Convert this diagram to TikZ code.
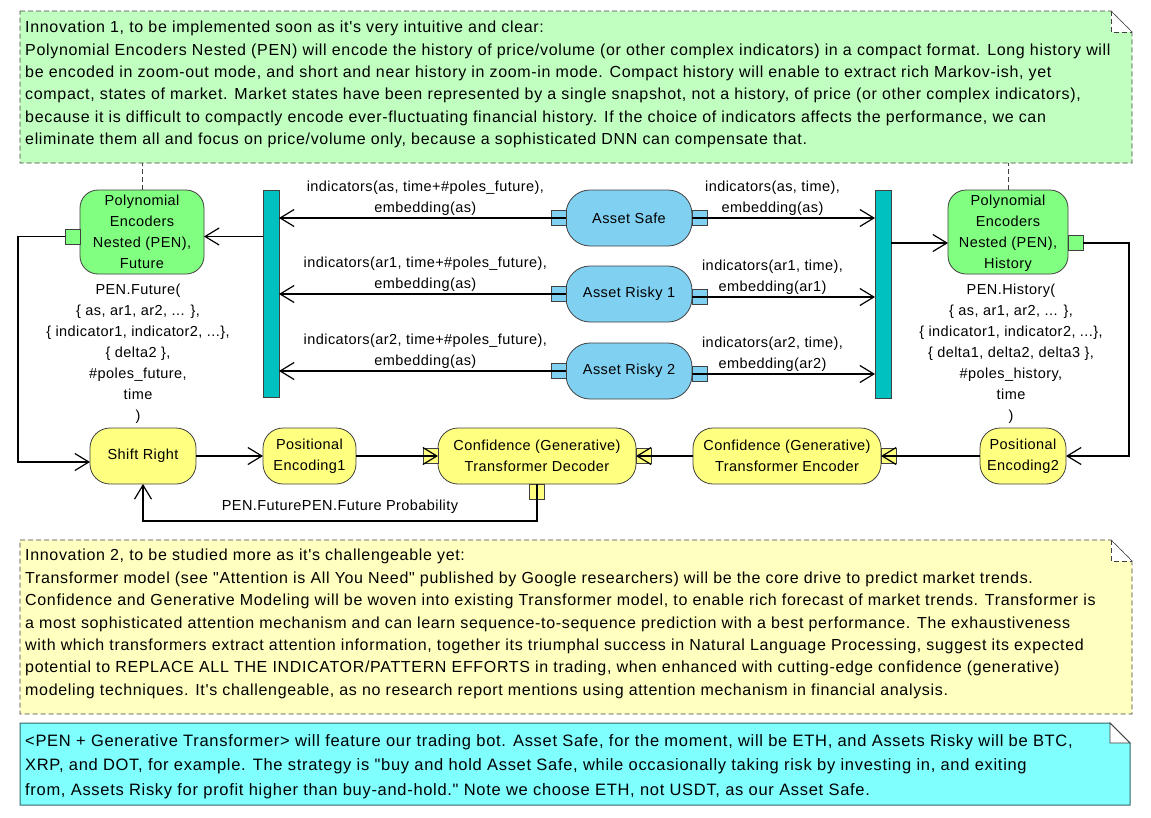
\documentclass[tikz,border=0pt]{standalone}
\usepackage{fontspec}
\setmainfont{Liberation Sans}
\newfontfamily\notefont{Liberation Sans}[LetterSpace=4.2]
\newfontfamily\lblfont{Liberation Sans}[LetterSpace=3]
\usepackage{tikz}
\usetikzlibrary{calc,positioning,arrows.meta}
\definecolor{penfill}{HTML}{80FF80}
\definecolor{assetfill}{HTML}{80D0F2}
\definecolor{stagefill}{HTML}{FFFF80}
\definecolor{barfill}{HTML}{00C0C0}
\definecolor{greennote}{HTML}{C0FFC0}
\definecolor{yellownote}{HTML}{FFFFC0}
\definecolor{cyannote}{HTML}{80FFFF}
\definecolor{edge}{HTML}{404040}
\tikzset{
  line/.style  = {-{Straight Barb[length=14pt,width=17pt]}, line width=1.2pt},
  lbl/.style   = {font=\lblfont\fontsize{14.5}{21}\selectfont, align=center, inner sep=2pt},
  box/.style   = {draw=edge, line width=0.8pt, rounded corners=18pt, align=center,
                  inner sep=0pt, outer sep=0pt, font=\lblfont\fontsize{14.5}{21}\selectfont},
  pen/.style   = {box, fill=penfill, minimum width=124pt, minimum height=84pt, text depth=-3pt},
  asset/.style = {box, fill=assetfill, rounded corners=24pt, minimum width=126pt, minimum height=56pt},
  stage/.style = {box, fill=stagefill, rounded corners=20pt, minimum height=56pt},
  bar/.style   = {draw=edge, line width=0.8pt, fill=barfill, minimum width=16pt, minimum height=207pt,
                  inner sep=0pt, outer sep=0pt},
  port/.style  = {draw=edge, line width=0.8pt, minimum size=15pt, inner sep=0pt, outer sep=0pt},
  notedash/.style = {draw=edge, line width=0.8pt, dash pattern=on 5pt off 3pt},
  notetxt/.style  = {font=\notefont\fontsize{16}{22.4}\selectfont, align=left, inner sep=0pt},
}
\begin{document}
\begin{tikzpicture}[x=1pt, y=-1pt]
  \useasboundingbox (0,0) rectangle (1151,817);

  \path[notedash, fill=greennote] (20,11) -- (1111,11) -- (1132,32) -- (1132,163) -- (20,163) -- cycle;
  \fill[white] (1111,11) -- (1111,32) -- (1132,32) -- cycle;
  \draw[notedash] (1111,11) |- (1132,32);
  \draw[edge, line width=0.6pt] (1111,11) -- (1132,32);
  \coordinate (n1b) at (0,163);
  \node[notetxt, anchor=north west] (inno1) at (25,21) {Innovation 1, to be implemented soon as it's very intuitive and clear:\\
    Polynomial Encoders Nested (PEN) will encode the history of price/volume (or other complex indicators) in a compact format. Long history will\\
    be encoded in zoom-out mode, and short and near history in zoom-in mode. Compact history will enable to extract rich Markov-ish, yet\\
    compact, states of market. Market states have been represented by a single snapshot, not a history, of price (or other complex indicators),\\
    because it is difficult to compactly encode ever-fluctuating financial history. If the choice of indicators affects the performance, we can\\
    eliminate them all and focus on price/volume only, because a sophisticated DNN can compensate that.};

  \path[notedash, fill=yellownote] (20,540) -- (1111,540) -- (1132,561) -- (1132,714) -- (20,714) -- cycle;
  \fill[white] (1111,540) -- (1111,561) -- (1132,561) -- cycle;
  \draw[notedash] (1111,540) |- (1132,561);
  \draw[edge, line width=0.6pt] (1111,540) -- (1132,561);
  \node[notetxt, anchor=north west] (inno2) at (25,549) {Innovation 2, to be studied more as it's challengeable yet:\\
    Transformer model (see "Attention is All You Need" published by Google researchers) will be the core drive to predict market trends.\\
    Confidence and Generative Modeling will be woven into existing Transformer model, to enable rich forecast of market trends. Transformer is\\
    a most sophisticated attention mechanism and can learn sequence-to-sequence prediction with a best performance. The exhaustiveness\\
    with which transformers extract attention information, together its triumphal success in Natural Language Processing, suggest its expected\\
    potential to REPLACE ALL THE INDICATOR/PATTERN EFFORTS in trading, when enhanced with cutting-edge confidence (generative)\\
    modeling techniques. It's challengeable, as no research report mentions using attention mechanism in financial analysis.};

  \path[draw=edge!80!cyan, line width=1pt, fill=cyannote] (20,723) -- (1110,723) -- (1130,743) -- (1130,805) -- (20,805) -- cycle;
  \filldraw[fill=white, draw=edge, line width=0.8pt] (1110,723) |- (1130,743) -- cycle;
  \node[notetxt, font=\notefont\fontsize{16.5}{24.5}\selectfont, anchor=north west] (bot) at (25,734) {<PEN + Generative Transformer> will feature our trading bot. Asset Safe, for the moment, will be ETH, and Assets Risky will be BTC,\\
    XRP, and DOT, for example. The strategy is "buy and hold Asset Safe, while occasionally taking risk by investing in, and exiting\\
    from, Assets Risky for profit higher than buy-and-hold." Note we choose ETH, not USDT, as our Asset Safe.};

  \node[pen] (fut) at (142,232) {Polynomial\\Encoders\\Nested (PEN),\\Future};
  \node[pen, minimum width=120pt] (hist) at (1008,232) {Polynomial\\Encoders\\Nested (PEN),\\History};
  \node[bar] (lbar) at (271,293.5) {};
  \node[bar, minimum height=208pt] (rbar) at (883,294) {};
  \node[asset] (safe) at (629,218) {Asset Safe};
  \node[asset, below=20pt of safe] (risky1) {Asset Risky 1};
  \node[asset, below=21pt of risky1] (risky2) {Asset Risky 2};

  \node[stage, minimum width=106pt] (shift) at (143,456) {Shift Right};
  \node[stage, minimum width=93pt, right=67pt of shift] (pos1) {Positional\\Encoding1};
  \node[stage, minimum width=198pt, right=82pt of pos1] (dec) {Confidence (Generative)\\Transformer Decoder};
  \node[stage, minimum width=188pt, right=57pt of dec] (enc) {Confidence (Generative)\\Transformer Encoder};
  \node[stage, minimum width=86pt, right=99pt of enc] (pos2) {Positional\\Encoding2};

  \node[port, fill=penfill, anchor=east] (fport) at ([yshift=-4.5pt]fut.west) {};
  \node[port, fill=penfill, anchor=west] (hport) at ([yshift=-11pt]hist.east) {};
  \node[port, fill=assetfill, anchor=east] (safeL) at (safe.west) {};
  \node[port, fill=assetfill, anchor=west] (safeR) at (safe.east) {};
  \node[port, fill=assetfill, anchor=east] (risky1L) at (risky1.west) {};
  \node[port, fill=assetfill, anchor=west] (risky1R) at ([yshift=-3pt]risky1.east) {};
  \node[port, fill=assetfill, anchor=east] (risky2L) at (risky2.west) {};
  \node[port, fill=assetfill, anchor=west] (risky2R) at ([yshift=-3pt]risky2.east) {};
  \node[port, fill=stagefill, anchor=east] (decL) at (dec.west) {};
  \node[port, fill=stagefill, anchor=west] (decR) at (dec.east) {};
  \node[port, fill=stagefill, anchor=north] (decB) at (dec.south) {};
  \node[port, fill=stagefill, anchor=west] (encR) at (enc.east) {};

  \node[lbl, below=8pt of fut, xshift=-4pt] (futcall) {PEN.Future(\\\{ as, ar1, ar2, ... \},\\\{ indicator1, indicator2, ...\},\\\{ delta2 \},\\\#poles\_future,\\time\\)};
  \node[lbl, below=8pt of hist, xshift=3pt] (histcall) {PEN.History(\\\{ as, ar1, ar2, ... \},\\\{ indicator1, indicator2, ...\},\\\{ delta1, delta2, delta3 \},\\\#poles\_history,\\time\\)};

  \draw[notedash] (fut.north) -- (fut.north |- n1b);
  \draw[notedash] (hist.north) -- (hist.north |- n1b);

  \draw[line] (safe.west) -- node[lbl, above, pos=.49] {indicators(as, time+\#poles\_future),\\embedding(as)} (lbar.east |- safe);
  \draw[line] (risky1.west) -- node[lbl, above, pos=.49] {indicators(ar1, time+\#poles\_future),\\embedding(as)} (lbar.east |- risky1);
  \draw[line] (risky2.west) -- node[lbl, above, pos=.49] {indicators(ar2, time+\#poles\_future),\\embedding(as)} (lbar.east |- risky2);
  \draw[line] (safe.east) -- node[lbl, above, pos=.44] {indicators(as, time),\\embedding(as)} (rbar.west |- safe);
  \draw[line] (risky1R.west) -- node[lbl, above, pos=.44] {indicators(ar1, time),\\embedding(ar1)} (rbar.west |- risky1R);
  \draw[line] (risky2R.west) -- node[lbl, above, pos=.44] {indicators(ar2, time),\\embedding(ar2)} (rbar.west |- risky2R);

  \draw[line] (lbar.west |- fport) -- (fut.east |- fport);
  \draw[line] (rbar.east |- hport) -- (hist.west |- hport);
  \draw[line] (fport.west) -- ++(-47,0) |- ([yshift=-6pt]shift.west);
  \draw[line] (hport.east) -- ++(46,0) |- (pos2.east);
  \draw[line] (shift) -- (pos1);
  \draw[line] (pos1) -- (dec);
  \draw[line] (pos2) -- (enc);
  \draw[line] (enc) -- (dec);
  \draw[line] (dec.south) -- ++(0,37) -| node[lbl, above, pos=.25, yshift=5pt] {PEN.FuturePEN.Future Probability} (shift.south);
\end{tikzpicture}
\end{document}
